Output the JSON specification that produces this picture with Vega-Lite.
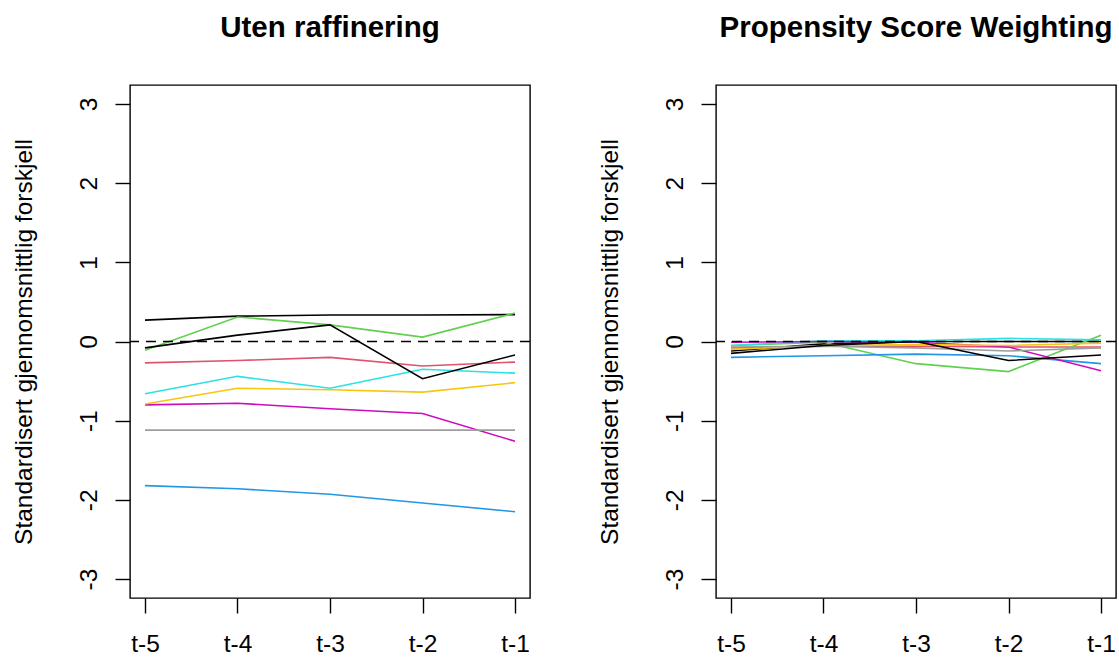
{
  "$schema": "https://vega.github.io/schema/vega-lite/v6.json",
  "background": "white",
  "padding": {"left": 10, "top": 11, "right": 0, "bottom": 0},
  "spacing": 64,
  "config": {
    "font": "Liberation Sans",
    "view": {"stroke": "black", "strokeWidth": 1.4},
    "axis": {
      "grid": false, "domain": false, "tickColor": "black", "tickSize": 15, "tickWidth": 1.4,
      "labelFont": "Liberation Sans", "labelFontSize": 24.5, "labelColor": "black",
      "titleFont": "Liberation Sans", "titleFontSize": 24.5, "titleFontWeight": "normal", "titleColor": "black"
    },
    "title": {"font": "Liberation Sans", "fontSize": 29.5, "fontWeight": "bold", "color": "black", "offset": 42, "baseline": "alphabetic"}
  },
  "datasets": {
    "uten": [
      {"t": "t-5", "serie": "1", "value": 0.27}, {"t": "t-4", "serie": "1", "value": 0.32}, {"t": "t-3", "serie": "1", "value": 0.335}, {"t": "t-2", "serie": "1", "value": 0.335}, {"t": "t-1", "serie": "1", "value": 0.34},
      {"t": "t-5", "serie": "2", "value": -0.27}, {"t": "t-4", "serie": "2", "value": -0.24}, {"t": "t-3", "serie": "2", "value": -0.20}, {"t": "t-2", "serie": "2", "value": -0.31}, {"t": "t-1", "serie": "2", "value": -0.26},
      {"t": "t-5", "serie": "3", "value": -0.11}, {"t": "t-4", "serie": "3", "value": 0.31}, {"t": "t-3", "serie": "3", "value": 0.21}, {"t": "t-2", "serie": "3", "value": 0.055}, {"t": "t-1", "serie": "3", "value": 0.36},
      {"t": "t-5", "serie": "4", "value": -1.82}, {"t": "t-4", "serie": "4", "value": -1.86}, {"t": "t-3", "serie": "4", "value": -1.93}, {"t": "t-2", "serie": "4", "value": -2.04}, {"t": "t-1", "serie": "4", "value": -2.15},
      {"t": "t-5", "serie": "5", "value": -0.66}, {"t": "t-4", "serie": "5", "value": -0.44}, {"t": "t-3", "serie": "5", "value": -0.59}, {"t": "t-2", "serie": "5", "value": -0.35}, {"t": "t-1", "serie": "5", "value": -0.40},
      {"t": "t-5", "serie": "6", "value": -0.80}, {"t": "t-4", "serie": "6", "value": -0.78}, {"t": "t-3", "serie": "6", "value": -0.85}, {"t": "t-2", "serie": "6", "value": -0.91}, {"t": "t-1", "serie": "6", "value": -1.26},
      {"t": "t-5", "serie": "7", "value": -0.79}, {"t": "t-4", "serie": "7", "value": -0.59}, {"t": "t-3", "serie": "7", "value": -0.61}, {"t": "t-2", "serie": "7", "value": -0.64}, {"t": "t-1", "serie": "7", "value": -0.52},
      {"t": "t-5", "serie": "8", "value": -1.12}, {"t": "t-4", "serie": "8", "value": -1.12}, {"t": "t-3", "serie": "8", "value": -1.12}, {"t": "t-2", "serie": "8", "value": -1.12}, {"t": "t-1", "serie": "8", "value": -1.12},
      {"t": "t-5", "serie": "9", "value": -0.08}, {"t": "t-4", "serie": "9", "value": 0.08}, {"t": "t-3", "serie": "9", "value": 0.21}, {"t": "t-2", "serie": "9", "value": -0.47}, {"t": "t-1", "serie": "9", "value": -0.17}
    ],
    "psw": [
      {"t": "t-5", "serie": "1", "value": -0.12}, {"t": "t-4", "serie": "1", "value": -0.03}, {"t": "t-3", "serie": "1", "value": 0.0}, {"t": "t-2", "serie": "1", "value": 0.0}, {"t": "t-1", "serie": "1", "value": 0.0},
      {"t": "t-5", "serie": "2", "value": -0.08}, {"t": "t-4", "serie": "2", "value": -0.06}, {"t": "t-3", "serie": "2", "value": -0.06}, {"t": "t-2", "serie": "2", "value": -0.07}, {"t": "t-1", "serie": "2", "value": -0.07},
      {"t": "t-5", "serie": "3", "value": -0.05}, {"t": "t-4", "serie": "3", "value": -0.01}, {"t": "t-3", "serie": "3", "value": -0.28}, {"t": "t-2", "serie": "3", "value": -0.38}, {"t": "t-1", "serie": "3", "value": 0.08},
      {"t": "t-5", "serie": "4", "value": -0.20}, {"t": "t-4", "serie": "4", "value": -0.18}, {"t": "t-3", "serie": "4", "value": -0.16}, {"t": "t-2", "serie": "4", "value": -0.18}, {"t": "t-1", "serie": "4", "value": -0.28},
      {"t": "t-5", "serie": "5", "value": -0.05}, {"t": "t-4", "serie": "5", "value": 0.01}, {"t": "t-3", "serie": "5", "value": 0.01}, {"t": "t-2", "serie": "5", "value": 0.04}, {"t": "t-1", "serie": "5", "value": 0.02},
      {"t": "t-5", "serie": "6", "value": -0.01}, {"t": "t-4", "serie": "6", "value": 0.0}, {"t": "t-3", "serie": "6", "value": -0.01}, {"t": "t-2", "serie": "6", "value": -0.07}, {"t": "t-1", "serie": "6", "value": -0.37},
      {"t": "t-5", "serie": "7", "value": -0.10}, {"t": "t-4", "serie": "7", "value": -0.05}, {"t": "t-3", "serie": "7", "value": -0.04}, {"t": "t-2", "serie": "7", "value": -0.05}, {"t": "t-1", "serie": "7", "value": -0.02},
      {"t": "t-5", "serie": "8", "value": -0.07}, {"t": "t-4", "serie": "8", "value": -0.06}, {"t": "t-3", "serie": "8", "value": -0.08}, {"t": "t-2", "serie": "8", "value": -0.12}, {"t": "t-1", "serie": "8", "value": -0.08},
      {"t": "t-5", "serie": "9", "value": -0.15}, {"t": "t-4", "serie": "9", "value": -0.05}, {"t": "t-3", "serie": "9", "value": 0.0}, {"t": "t-2", "serie": "9", "value": -0.24}, {"t": "t-1", "serie": "9", "value": -0.17}
    ]
  },
  "hconcat": [
    {
      "width": 400, "height": 513,
      "title": "Uten raffinering",
      "layer": [
        {
          "data": {"name": "uten"},
          "mark": {"type": "line", "strokeWidth": 1.6},
          "encoding": {
            "x": {"field": "t", "type": "ordinal", "sort": ["t-5", "t-4", "t-3", "t-2", "t-1"], "scale": {"type": "point", "padding": 0.162},
                  "axis": {"title": null, "labelAngle": 0, "labelPadding": 19, "labelBaseline": "top"}},
            "y": {"field": "value", "type": "quantitative", "scale": {"domain": [-3.24, 3.24], "nice": false, "zero": false},
                  "axis": {"title": "Standardisert gjennomsnittlig forskjell", "values": [-3, -2, -1, 0, 1, 2, 3], "labelExpr": "'' + datum.value", "labelAngle": -90, "labelAlign": "center", "labelBaseline": "alphabetic", "labelPadding": 19, "titlePadding": 40}},
            "color": {"field": "serie", "type": "nominal", "legend": null,
                      "scale": {"domain": ["1", "2", "3", "4", "5", "6", "7", "8", "9"], "range": ["#000000", "#DF536B", "#61D04F", "#2297E6", "#28E2E5", "#CD0BBC", "#F5C710", "#9E9E9E", "#000000"]}}
          }
        },
        {
          "data": {"values": [{}]},
          "mark": {"type": "rule", "color": "black", "strokeWidth": 1.6, "strokeDash": [10, 7]},
          "encoding": {"y": {"datum": 0}}
        }
      ]
    },
    {
      "width": 400, "height": 513,
      "title": "Propensity Score Weighting",
      "layer": [
        {
          "data": {"name": "psw"},
          "mark": {"type": "line", "strokeWidth": 1.6},
          "encoding": {
            "x": {"field": "t", "type": "ordinal", "sort": ["t-5", "t-4", "t-3", "t-2", "t-1"], "scale": {"type": "point", "padding": 0.162},
                  "axis": {"title": null, "labelAngle": 0, "labelPadding": 19, "labelBaseline": "top"}},
            "y": {"field": "value", "type": "quantitative", "scale": {"domain": [-3.24, 3.24], "nice": false, "zero": false},
                  "axis": {"title": "Standardisert gjennomsnittlig forskjell", "values": [-3, -2, -1, 0, 1, 2, 3], "labelExpr": "'' + datum.value", "labelAngle": -90, "labelAlign": "center", "labelBaseline": "alphabetic", "labelPadding": 19, "titlePadding": 40}},
            "color": {"field": "serie", "type": "nominal", "legend": null,
                      "scale": {"domain": ["1", "2", "3", "4", "5", "6", "7", "8", "9"], "range": ["#000000", "#DF536B", "#61D04F", "#2297E6", "#28E2E5", "#CD0BBC", "#F5C710", "#9E9E9E", "#000000"]}}
          }
        },
        {
          "data": {"values": [{}]},
          "mark": {"type": "rule", "color": "black", "strokeWidth": 1.6, "strokeDash": [10, 7]},
          "encoding": {"y": {"datum": 0}}
        }
      ]
    }
  ]
}
